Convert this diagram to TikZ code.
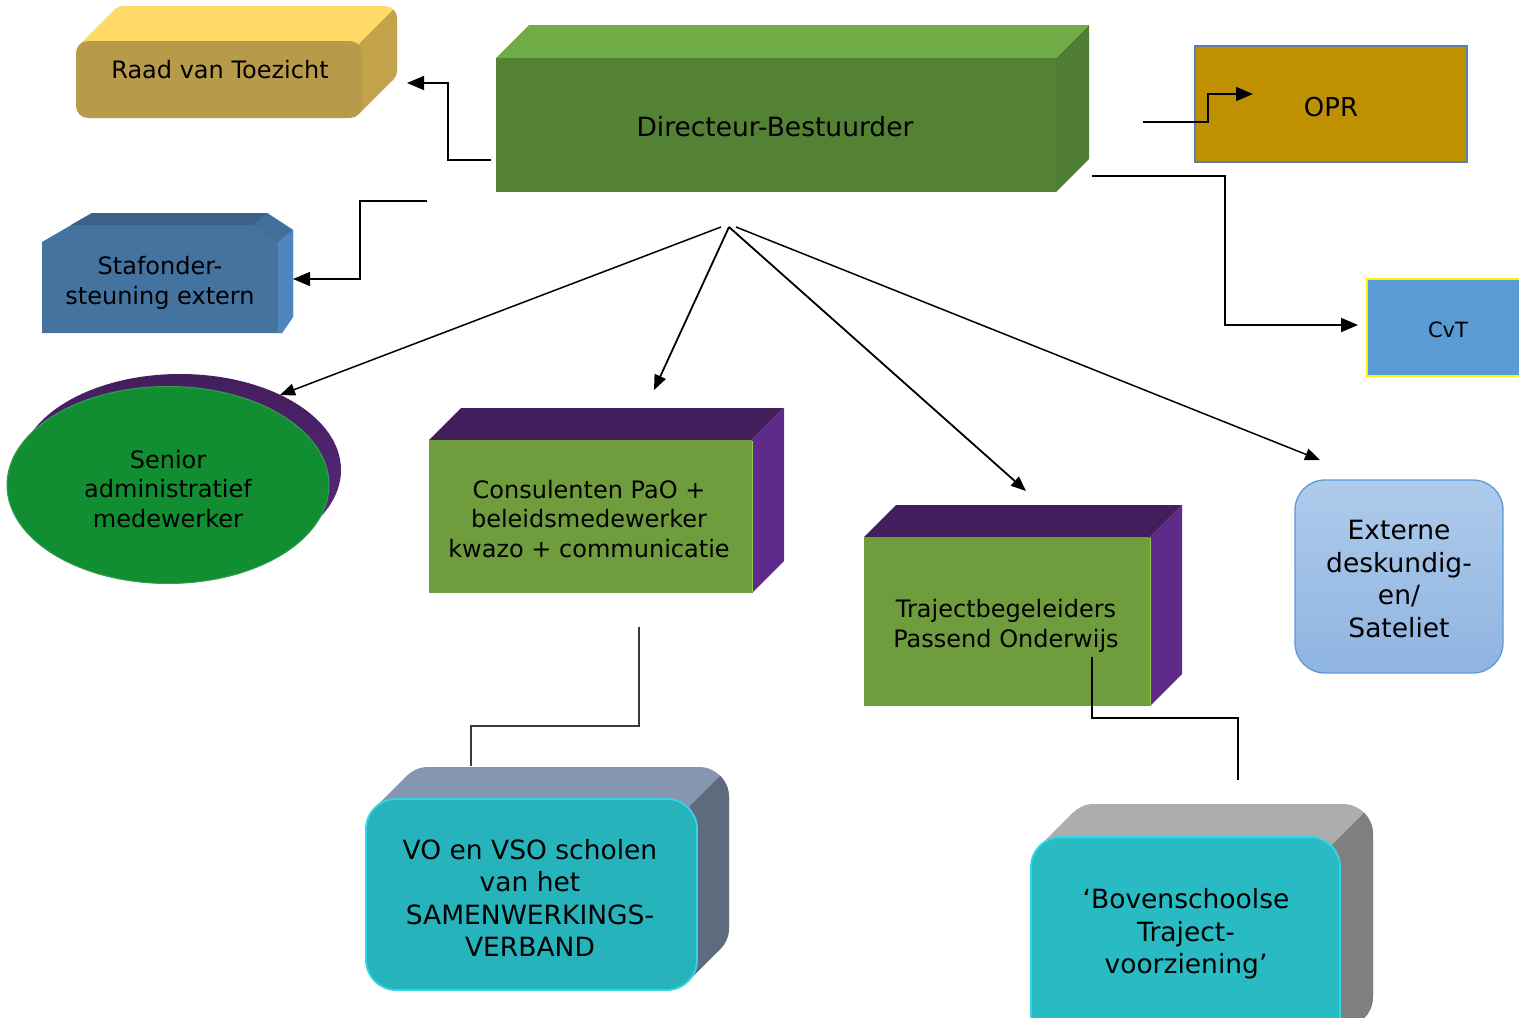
\documentclass[tikz,border=0pt]{standalone}
\usepackage{fontspec}
\setmainfont{DejaVu Sans}
\usetikzlibrary{arrows.meta}
\definecolor{dirfront}{HTML}{548235}
\definecolor{dirtop}{HTML}{70AD47}
\definecolor{dirside}{HTML}{507E32}
\definecolor{raadfront}{HTML}{B89B4A}
\definecolor{raadtop}{HTML}{FED966}
\definecolor{raadside}{HTML}{C3A24C}
\definecolor{staffront}{HTML}{4573A0}
\definecolor{staftop}{HTML}{3B6389}
\definecolor{stafcorner}{HTML}{416F9B}
\definecolor{stafside}{HTML}{4F86C0}
\definecolor{grfront}{HTML}{6F9C3C}
\definecolor{grline}{HTML}{92CC52}
\definecolor{purtop}{HTML}{431E5C}
\definecolor{purside}{HTML}{5E2B8A}
\definecolor{senior}{HTML}{118E31}
\definecolor{opr}{HTML}{BF9000}
\definecolor{oprline}{HTML}{5A7FAF}
\definecolor{cvt}{HTML}{5B9BD5}
\definecolor{exttop}{HTML}{AECBEB}
\definecolor{extbot}{HTML}{8FB4E1}
\definecolor{extline}{HTML}{5B9BD5}
\definecolor{tealfront}{HTML}{26B3BB}
\definecolor{tealline}{HTML}{33D6E4}
\definecolor{votop}{HTML}{8597B0}
\definecolor{voside}{HTML}{5E6B7D}
\definecolor{bvtop}{HTML}{ADADAD}
\definecolor{bvside}{HTML}{7F7F7F}
\definecolor{bvfront}{HTML}{29BBC3}
\definecolor{vlink}{HTML}{3A3A3A}

% straight box: x1 y1 x2 y2 d front top side
\newcommand\cubebox[8]{%
  \fill[#7] (#1,#2) -- ({#1+#5},{#2-#5}) -- ({#3+#5},{#2-#5}) -- (#3,#2) -- cycle;
  \fill[#8] (#3,#2) -- ({#3+#5},{#2-#5}) -- ({#3+#5},{#4-#5}) -- (#3,#4) -- cycle;
  \fill[#6] (#1,#2) rectangle (#3,#4);
}
% rounded box: x1 y1 x2 y2 d r top side  (front drawn separately)
\newcommand\roundback[8]{%
  \pgfmathsetmacro\rk{0.293*#6}%
  \fill[#7, rounded corners=#6] ({#1+#5},{#2-#5}) rectangle ({#3+#5},{#4-#5});
  \begin{scope}
    \clip[rounded corners=#6] ({#1+#5},{#2-#5}) rectangle ({#3+#5},{#4-#5});
    \fill[#8] ({#3-\rk-400},{#2+\rk+400}) -- ({#3-\rk+400},{#2+\rk-400})
       -- ({#3-\rk+1400},{#2+\rk-400}) -- ({#3-\rk+600},{#2+\rk+400}) -- cycle;
  \end{scope}
  \fill[#7] ({#1+\rk},{#2+\rk}) -- ({#1+\rk+#5},{#2+\rk-#5})
     -- ({#3-\rk+#5},{#2+\rk-#5}) -- ({#3-\rk},{#2+\rk}) -- cycle;
  \fill[#8] ({#3-\rk},{#2+\rk}) -- ({#3-\rk+#5},{#2+\rk-#5})
     -- ({#3-\rk+#5},{#4-\rk-#5}) -- ({#3-\rk},{#4-\rk}) -- cycle;
}

\tikzset{
  lbl/.style={align=center, inner sep=0pt, text=black, font=\fontsize{24}{29.5}\selectfont},
  lblbig/.style={lbl, font=\fontsize{26.5}{32.5}\selectfont},
  conn/.style={draw=black, line width=1.5pt},
  bigtip/.style={-{Triangle[length=17pt,width=14pt]}},
  smalltip/.style={-{Triangle[length=15pt,width=12pt]}}
}

\begin{document}
\begin{tikzpicture}[x=1pt,y=-1pt]
\useasboundingbox (0,0) rectangle (1519,1018);
\clip (0,0) rectangle (1519,1018);

% ---------- Raad van Toezicht ----------
\roundback{76}{41}{362}{118}{35}{12}{raadtop}{raadside}
\fill[raadfront, rounded corners=12] (76,41) rectangle (362,118);
\node[lbl] (raad) at (220,70) {Raad van Toezicht};

% ---------- Directeur-Bestuurder ----------
\cubebox{496}{58}{1056}{192}{33}{dirfront}{dirtop}{dirside}
\node[lblbig] (dir) at (775,127) {Directeur-Bestuurder};

% ---------- OPR ----------
\draw[fill=opr, draw=oprline, line width=2.5pt] (1195,46) rectangle (1467,162);
\node[lbl, font=\fontsize{26}{30}\selectfont] (opr) at (1331,107) {OPR};

% ---------- CvT ----------
\draw[fill=cvt, draw=yellow, line width=2.5pt] (1367,279) rectangle (1545,376);
\node[lbl, font=\fontsize{21}{25}\selectfont] (cvt) at (1448,330) {CvT};

% ---------- Stafondersteuning extern ----------
\fill[staffront] (42,242) -- (92,213) -- (267,213) -- (293,230) -- (293,317) -- (282,333) -- (42,333) -- cycle;
\fill[staftop] (92,213) -- (267,213) -- (253,225) -- (71,225) -- cycle;
\fill[stafcorner] (267,213) -- (293,230) -- (278,242) -- (253,225) -- cycle;
\fill[stafside] (278,242) -- (293,230) -- (293,317) -- (282,333) -- (278,333) -- cycle;
\node[lbl] (staf) at (160,283) {Stafonder-\\steuning extern};

% ---------- Senior administratief medewerker ----------
\shade[top color=purtop, bottom color=purside] (180,470) ellipse [x radius=161, y radius=96];
\draw[fill=senior, draw=senior!85!white, line width=1pt] (168,485) ellipse [x radius=161, y radius=98.5];
\node[lbl] (senior) at (168,489) {Senior\\administratief\\medewerker};

% ---------- Consulenten ----------
\cubebox{429}{440}{752}{593}{32}{grfront}{purtop}{purside}
\draw[grline, line width=1pt] (752,441) -- (752,592);
\node[lbl] (cons) at (589,519) {Consulenten PaO +\\beleidsmedewerker\\kwazo + communicatie};

% ---------- Trajectbegeleiders ----------
\cubebox{864}{537}{1150}{706}{32}{grfront}{purtop}{purside}
\draw[grline, line width=1pt] (1150,538) -- (1150,705);
\node[lbl] (traj) at (1006,626) {Trajectbegeleiders\\Passend Onderwijs};

% ---------- Externe deskundigen ----------
\shade[top color=exttop, bottom color=extbot, rounded corners=30] (1295,480) rectangle (1503,673);
\draw[extline, line width=1.3pt, rounded corners=30] (1295,480) rectangle (1503,673);
\node[lblbig] (ext) at (1399,579) {Externe\\deskundig-\\en/\\Sateliet};

% ---------- VO en VSO ----------
\roundback{366}{799}{697}{990}{32}{30}{votop}{voside}
\draw[fill=tealfront, draw=tealline, line width=1.8pt, rounded corners=30] (366,799) rectangle (697,990);
\node[lblbig] (vo) at (530,898) {VO en VSO scholen\\van het\\SAMENWERKINGS-\\VERBAND};

% ---------- Bovenschoolse ----------
\roundback{1031}{837}{1340}{1060}{33}{30}{bvtop}{bvside}
\draw[fill=bvfront, draw=tealline, line width=1.8pt, rounded corners=30] (1031,837) rectangle (1340,1060);
\node[lblbig] (bov) at (1186,934) {‘Bovenschoolse\\Traject-\\voorziening’};

% ---------- connector end points ----------
\coordinate (dirL) at (491,160);
\coordinate (raadR) at (407,83);
\coordinate (stafS) at (427,201);
\coordinate (stafR) at (293,279);
\coordinate (oprS) at (1143,122);
\coordinate (oprE) at (1253,94);
\coordinate (cvtS) at (1092,176);
\coordinate (cvtL) at (1358,325);
\coordinate (apL) at (721,227);
\coordinate (apM) at (729,227);
\coordinate (apR) at (736,227);
\coordinate (seniorT) at (280,395);
\coordinate (consT) at (654,390);
\coordinate (trajT) at (1026,491);
\coordinate (extT) at (1320,460);
\coordinate (consB) at (639,627);
\coordinate (voT) at (471,766);
\coordinate (trajB) at (1092,657);
\coordinate (bovT) at (1238,780);

% ---------- connectors ----------
\draw[conn, bigtip] (dirL) -- ++(-43,0) |- (raadR);
\draw[conn, bigtip] (stafS) -- ++(-67,0) |- (stafR);
\draw[conn, bigtip] (oprS) -- ++(65,0) |- (oprE);
\draw[conn, bigtip, line width=1.8pt] (cvtS) -- ++(133,0) |- (cvtL);
\draw[conn, smalltip] (apL) -- (seniorT);
\draw[conn, smalltip, line width=1.8pt] (apM) -- (consT);
\draw[conn, smalltip, line width=1.8pt] (apM) -- (trajT);
\draw[conn, smalltip] (apR) -- (extT);
\draw[draw=vlink, line width=1.5pt] (consB) -- ++(0,99) -| (voT);
\draw[draw=black, line width=2.2pt] (trajB) -- ++(0,61) -| (bovT);
\end{tikzpicture}
\end{document}
